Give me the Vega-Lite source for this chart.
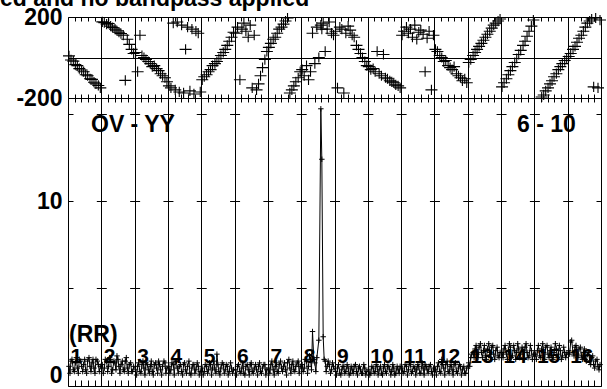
{
"$schema": "https://vega.github.io/schema/vega-lite/v6.json",
"autosize": {"type": "pad"},
"padding": {"left": 0, "top": -12, "right": 0, "bottom": 0},
"background": "white",
"title": {"text": "ed and no bandpass applied", "anchor": "start", "frame": "group", "dx": -68, "dy": 34, "offset": 10.5, "baseline": "alphabetic", "font": "Liberation Sans", "fontSize": 23, "fontWeight": "bold", "color": "black"},
"datasets": {
"ifs": [{"b":0,"t":"1"},{"b":1,"t":"2"},{"b":2,"t":"3"},{"b":3,"t":"4"},{"b":4,"t":"5"},{"b":5,"t":"6"},{"b":6,"t":"7"},{"b":7,"t":"8"},{"b":8,"t":"9"},{"b":9,"t":"10"},{"b":10,"t":"11"},{"b":11,"t":"12"},{"b":12,"t":"13"},{"b":13,"t":"14"},{"b":14,"t":"15"},{"b":15,"t":"16"}],
"d": [
{"x":0.03,"a":0.5,"p":8},{"x":0.09,"a":0.8,"p":-12},{"x":0.16,"a":0.3,"p":-18},{"x":0.22,"a":0.7,"p":-35},{"x":0.28,"a":0.4,"p":-40},{"x":0.34,"a":0.9,"p":-55},{"x":0.41,"a":0.5,"p":-62},{"x":0.47,"a":0.6,"p":-70},{"x":0.53,"a":0.3,"p":-85},{"x":0.59,"a":0.8,"p":-90},{"x":0.66,"a":0.5,"p":-105},{"x":0.72,"a":0.7,"p":-108},{"x":0.78,"a":0.4,"p":-122},{"x":0.84,"a":0.9,"p":-130},{"x":0.91,"a":0.6,"p":-138},{"x":0.97,"a":0.5,"p":-150},
{"x":1.03,"a":0.6,"p":176},{"x":1.09,"a":0.4,"p":172},{"x":1.16,"a":0.8,"p":165},{"x":1.22,"a":0.5,"p":168},{"x":1.28,"a":0.9,"p":155},{"x":1.34,"a":0.3,"p":148},{"x":1.41,"a":0.7,"p":140},{"x":1.47,"a":1.1,"p":132},{"x":1.53,"a":0.5,"p":125},{"x":1.59,"a":0.6,"p":118},{"x":1.66,"a":0.3,"p":110},{"x":1.72,"a":0.8,"p":-113},{"x":1.78,"a":0.4,"p":90},{"x":1.84,"a":0.6,"p":65},{"x":1.91,"a":0.2,"p":40},{"x":1.97,"a":0.5,"p":20},
{"x":2.03,"a":0.3,"p":25},{"x":2.09,"a":0.5,"p":-70},{"x":2.16,"a":0.2,"p":110},{"x":2.22,"a":0.6,"p":10},{"x":2.28,"a":0.4,"p":0},{"x":2.34,"a":0.7,"p":-10},{"x":2.41,"a":0.3,"p":-20},{"x":2.47,"a":0.5,"p":-30},{"x":2.53,"a":0.2,"p":-45},{"x":2.59,"a":0.6,"p":-40},{"x":2.66,"a":0.4,"p":-55},{"x":2.72,"a":0.8,"p":-65},{"x":2.78,"a":0.3,"p":-80},{"x":2.84,"a":0.5,"p":-90},{"x":2.91,"a":0.7,"p":-100},{"x":2.97,"a":0.4,"p":-120},
{"x":3.03,"a":0.5,"p":-140},{"x":3.09,"a":0.3,"p":-150},{"x":3.16,"a":0.6,"p":170},{"x":3.22,"a":0.8,"p":-160},{"x":3.28,"a":0.4,"p":175},{"x":3.34,"a":0.5,"p":-170},{"x":3.41,"a":0.2,"p":160},{"x":3.47,"a":0.6,"p":-175},{"x":3.53,"a":0.3,"p":40},{"x":3.59,"a":0.5,"p":150},{"x":3.66,"a":0.1,"p":-165},{"x":3.72,"a":0.4,"p":140},{"x":3.78,"a":0.6,"p":-180},{"x":3.84,"a":0.3,"p":130},{"x":3.91,"a":0.5,"p":120},{"x":3.97,"a":0.2,"p":-170},
{"x":4.03,"a":0.4,"p":-110},{"x":4.09,"a":0.2,"p":-95},{"x":4.16,"a":0.5,"p":-85},{"x":4.22,"a":0.3,"p":-70},{"x":4.28,"a":0.6,"p":-60},{"x":4.34,"a":0.4,"p":-40},{"x":4.41,"a":0.3,"p":-30},{"x":4.47,"a":1.2,"p":-20},{"x":4.53,"a":0.2,"p":-5},{"x":4.59,"a":0.4,"p":10},{"x":4.66,"a":0.6,"p":25},{"x":4.72,"a":0.3,"p":40},{"x":4.78,"a":0.5,"p":60},{"x":4.84,"a":0.2,"p":80},{"x":4.91,"a":0.4,"p":100},{"x":4.97,"a":0.3,"p":125},
{"x":5.03,"a":0.3,"p":120},{"x":5.09,"a":0.5,"p":150},{"x":5.16,"a":0.2,"p":-110},{"x":5.22,"a":0.4,"p":140},{"x":5.28,"a":0.1,"p":170},{"x":5.34,"a":0.5,"p":130},{"x":5.41,"a":0.3,"p":100},{"x":5.47,"a":0.6,"p":160},{"x":5.53,"a":0.2,"p":-150},{"x":5.59,"a":0.4,"p":110},{"x":5.66,"a":0.3,"p":-160},{"x":5.72,"a":0.5,"p":-130},{"x":5.78,"a":0.2,"p":-90},{"x":5.84,"a":0.4,"p":-50},{"x":5.91,"a":0.6,"p":-10},{"x":5.97,"a":0.3,"p":30},
{"x":6.03,"a":0.4,"p":50},{"x":6.09,"a":0.6,"p":70},{"x":6.16,"a":0.3,"p":90},{"x":6.22,"a":0.5,"p":100},{"x":6.28,"a":0.2,"p":120},{"x":6.34,"a":0.6,"p":140},{"x":6.41,"a":0.4,"p":150},{"x":6.47,"a":0.5,"p":165},{"x":6.53,"a":0.3,"p":180},{"x":6.59,"a":0.7,"p":195},{"x":6.66,"a":0.4,"p":-175},{"x":6.72,"a":0.6,"p":-160},{"x":6.78,"a":0.3,"p":-140},{"x":6.84,"a":0.5,"p":-120},{"x":6.91,"a":0.8,"p":-100},{"x":6.97,"a":0.5,"p":-70},
{"x":7.03,"a":0.6,"p":-60},{"x":7.09,"a":0.4,"p":-90},{"x":7.16,"a":0.8,"p":-40},{"x":7.22,"a":0.5,"p":-110},{"x":7.28,"a":0.9,"p":-70},{"x":7.34,"a":2.5,"p":120},{"x":7.41,"a":0.7,"p":-30},{"x":7.47,"a":1.0,"p":150},{"x":7.53,"a":2.0,"p":0},{"x":7.59,"a":15.3,"p":160},{"x":7.62,"a":12.4,"p":140},{"x":7.66,"a":2.2,"p":170},{"x":7.72,"a":0.8,"p":30},{"x":7.78,"a":0.5,"p":140},{"x":7.84,"a":0.6,"p":175},{"x":7.91,"a":0.3,"p":120},{"x":7.97,"a":0.5,"p":110},
{"x":8.03,"a":0.2,"p":130},{"x":8.09,"a":0.4,"p":-150},{"x":8.16,"a":0.1,"p":150},{"x":8.22,"a":0.3,"p":140},{"x":8.28,"a":0.5,"p":-175},{"x":8.34,"a":0.2,"p":120},{"x":8.41,"a":0.4,"p":155},{"x":8.47,"a":0.1,"p":135},{"x":8.53,"a":0.3,"p":110},{"x":8.59,"a":0.5,"p":100},{"x":8.66,"a":0.2,"p":60},{"x":8.72,"a":0.4,"p":40},{"x":8.78,"a":0.3,"p":20},{"x":8.84,"a":0.1,"p":0},{"x":8.91,"a":0.4,"p":-20},{"x":8.97,"a":0.2,"p":-40},
{"x":9.03,"a":0.3,"p":-45},{"x":9.09,"a":0.1,"p":-60},{"x":9.16,"a":0.4,"p":-55},{"x":9.22,"a":0.2,"p":-70},{"x":9.28,"a":0.5,"p":30},{"x":9.34,"a":0.3,"p":-80},{"x":9.41,"a":0.1,"p":-90},{"x":9.47,"a":0.4,"p":15},{"x":9.53,"a":0.2,"p":-100},{"x":9.59,"a":0.5,"p":-105},{"x":9.66,"a":0.3,"p":-115},{"x":9.72,"a":0.2,"p":-120},{"x":9.78,"a":0.4,"p":-125},{"x":9.84,"a":0.1,"p":-135},{"x":9.91,"a":0.3,"p":-140},{"x":9.97,"a":0.5,"p":-150},
{"x":10.03,"a":0.4,"p":110},{"x":10.09,"a":0.2,"p":130},{"x":10.16,"a":0.5,"p":150},{"x":10.22,"a":0.3,"p":120},{"x":10.28,"a":0.6,"p":140},{"x":10.34,"a":0.2,"p":100},{"x":10.41,"a":0.4,"p":160},{"x":10.47,"a":0.3,"p":90},{"x":10.53,"a":0.5,"p":125},{"x":10.59,"a":0.1,"p":135},{"x":10.66,"a":0.4,"p":115},{"x":10.72,"a":0.6,"p":-70},{"x":10.78,"a":0.3,"p":95},{"x":10.84,"a":0.5,"p":130},{"x":10.91,"a":0.2,"p":-160},{"x":10.97,"a":0.4,"p":110},
{"x":11.03,"a":0.3,"p":40},{"x":11.09,"a":0.5,"p":30},{"x":11.16,"a":0.2,"p":10},{"x":11.22,"a":0.9,"p":0},{"x":11.28,"a":0.4,"p":-20},{"x":11.34,"a":0.6,"p":-15},{"x":11.41,"a":0.2,"p":-40},{"x":11.47,"a":0.5,"p":-50},{"x":11.53,"a":0.3,"p":-60},{"x":11.59,"a":0.6,"p":-45},{"x":11.66,"a":0.2,"p":-80},{"x":11.72,"a":0.4,"p":-90},{"x":11.78,"a":0.5,"p":-100},{"x":11.84,"a":0.3,"p":-115},{"x":11.91,"a":0.1,"p":-105},{"x":11.97,"a":0.4,"p":-125},
{"x":12.03,"a":0.7,"p":-25},{"x":12.09,"a":1.0,"p":-10},{"x":12.16,"a":1.3,"p":10},{"x":12.22,"a":1.5,"p":25},{"x":12.28,"a":1.2,"p":40},{"x":12.34,"a":1.6,"p":55},{"x":12.41,"a":1.3,"p":70},{"x":12.47,"a":1.4,"p":85},{"x":12.53,"a":1.1,"p":100},{"x":12.59,"a":1.5,"p":115},{"x":12.66,"a":1.3,"p":130},{"x":12.72,"a":1.6,"p":145},{"x":12.78,"a":1.2,"p":160},{"x":12.84,"a":1.4,"p":170},{"x":12.91,"a":1.1,"p":180},{"x":12.97,"a":1.3,"p":190},
{"x":13.03,"a":1.3,"p":-145},{"x":13.09,"a":1.5,"p":-125},{"x":13.16,"a":1.2,"p":-105},{"x":13.22,"a":1.4,"p":-85},{"x":13.28,"a":1.6,"p":-65},{"x":13.34,"a":1.1,"p":-45},{"x":13.41,"a":1.4,"p":-25},{"x":13.47,"a":1.3,"p":-5},{"x":13.53,"a":1.5,"p":15},{"x":13.59,"a":1.2,"p":35},{"x":13.66,"a":1.4,"p":60},{"x":13.72,"a":1.6,"p":80},{"x":13.78,"a":1.3,"p":105},{"x":13.84,"a":1.1,"p":130},{"x":13.91,"a":1.4,"p":155},{"x":13.97,"a":1.2,"p":185},
{"x":14.03,"a":1.2},{"x":14.09,"a":1.4},{"x":14.16,"a":1.1},{"x":14.22,"a":1.5,"p":-195},{"x":14.28,"a":1.3,"p":-185},{"x":14.34,"a":1.6,"p":-165},{"x":14.41,"a":1.2,"p":-150},{"x":14.47,"a":1.4,"p":-130},{"x":14.53,"a":1.0,"p":-115},{"x":14.59,"a":1.3,"p":-95},{"x":14.66,"a":1.5,"p":-80},{"x":14.72,"a":1.2,"p":-60},{"x":14.78,"a":1.4,"p":-45},{"x":14.84,"a":1.1,"p":-30},{"x":14.91,"a":1.3,"p":-15},{"x":14.97,"a":1.2,"p":-5},
{"x":15.03,"a":1.4,"p":5},{"x":15.09,"a":1.9,"p":20},{"x":15.16,"a":1.3,"p":40},{"x":15.22,"a":1.6,"p":55},{"x":15.28,"a":1.2,"p":75},{"x":15.34,"a":1.5,"p":95},{"x":15.41,"a":1.1,"p":110},{"x":15.47,"a":1.3,"p":130},{"x":15.53,"a":0.9,"p":150},{"x":15.59,"a":1.2,"p":170},{"x":15.66,"a":0.8,"p":180},{"x":15.72,"a":1.0,"p":190},{"x":15.78,"a":0.6,"p":-145},{"x":15.84,"a":0.8,"p":195},{"x":15.91,"a":0.5,"p":-150},{"x":15.97,"a":0.6,"p":185},
{"x":0.06,"a":0.1},{"x":0.12,"a":0.9},{"x":0.19,"a":0.2},{"x":0.25,"a":1.0},{"x":0.31,"a":0.1},{"x":0.38,"a":0.8},{"x":0.44,"a":0.2},{"x":0.5,"a":0.9},{"x":0.56,"a":0.1},{"x":0.63,"a":1.0},{"x":0.69,"a":0.2},{"x":0.75,"a":0.9},{"x":0.81,"a":0.1},{"x":0.88,"a":0.8},{"x":0.94,"a":0.2},
{"x":1.06,"a":0.1},{"x":1.12,"a":0.9},{"x":1.19,"a":0.2},{"x":1.25,"a":1.0},{"x":1.31,"a":0.1},{"x":1.38,"a":0.8},{"x":1.44,"a":0.3},{"x":1.5,"a":0.9},{"x":1.56,"a":0.1},{"x":1.63,"a":0.8},{"x":1.69,"a":0.2},{"x":1.75,"a":1.0},{"x":1.81,"a":0.1},{"x":1.88,"a":0.7},{"x":1.94,"a":0.2},
{"x":2.06,"a":0.0},{"x":2.12,"a":0.7},{"x":2.19,"a":0.1},{"x":2.25,"a":0.8},{"x":2.31,"a":0.0},{"x":2.38,"a":0.6},{"x":2.44,"a":0.1},{"x":2.5,"a":0.8},{"x":2.56,"a":0.0},{"x":2.63,"a":0.7},{"x":2.69,"a":0.1},{"x":2.75,"a":0.6},{"x":2.81,"a":0.0},{"x":2.88,"a":0.8},{"x":2.94,"a":0.1},
{"x":3.06,"a":0.1},{"x":3.12,"a":0.7},{"x":3.19,"a":0.0},{"x":3.25,"a":0.8},{"x":3.31,"a":0.1},{"x":3.38,"a":0.6},{"x":3.44,"a":0.0},{"x":3.5,"a":0.7},{"x":3.56,"a":0.1},{"x":3.63,"a":0.8},{"x":3.69,"a":0.0},{"x":3.75,"a":0.6},{"x":3.81,"a":0.1},{"x":3.88,"a":0.7},{"x":3.94,"a":0.0},
{"x":4.06,"a":0.0},{"x":4.12,"a":0.6},{"x":4.19,"a":0.1},{"x":4.25,"a":0.7},{"x":4.31,"a":0.0},{"x":4.38,"a":0.8},{"x":4.44,"a":0.1},{"x":4.5,"a":0.6},{"x":4.56,"a":0.0},{"x":4.63,"a":0.7},{"x":4.69,"a":0.1},{"x":4.75,"a":0.6},{"x":4.81,"a":0.0},{"x":4.88,"a":0.7},{"x":4.94,"a":0.1},
{"x":5.06,"a":0.0},{"x":5.12,"a":0.6},{"x":5.19,"a":0.1},{"x":5.25,"a":0.7},{"x":5.31,"a":0.0},{"x":5.38,"a":0.6},{"x":5.44,"a":0.0},{"x":5.5,"a":0.7},{"x":5.56,"a":0.1},{"x":5.63,"a":0.6},{"x":5.69,"a":0.0},{"x":5.75,"a":0.7},{"x":5.81,"a":0.1},{"x":5.88,"a":0.6},{"x":5.94,"a":0.0},
{"x":6.06,"a":0.1},{"x":6.12,"a":0.8},{"x":6.19,"a":0.0},{"x":6.25,"a":0.7},{"x":6.31,"a":0.1},{"x":6.38,"a":0.8},{"x":6.44,"a":0.2},{"x":6.5,"a":0.7},{"x":6.56,"a":0.0},{"x":6.63,"a":0.9},{"x":6.69,"a":0.1},{"x":6.75,"a":0.8},{"x":6.81,"a":0.2},{"x":6.88,"a":0.7},{"x":6.94,"a":0.1},
{"x":7.06,"a":0.2},{"x":7.12,"a":0.9},{"x":7.19,"a":0.1},{"x":7.25,"a":1.1},{"x":7.31,"a":0.3},{"x":7.38,"a":0.9},{"x":7.44,"a":0.2},{"x":7.69,"a":0.9},{"x":7.75,"a":0.2},{"x":7.81,"a":0.8},{"x":7.88,"a":0.1},{"x":7.94,"a":0.7},
{"x":8.06,"a":0.0},{"x":8.12,"a":0.6},{"x":8.19,"a":0.0},{"x":8.25,"a":0.5},{"x":8.31,"a":0.1},{"x":8.38,"a":0.6},{"x":8.44,"a":0.0},{"x":8.5,"a":0.5},{"x":8.56,"a":0.1},{"x":8.63,"a":0.6},{"x":8.69,"a":0.0},{"x":8.75,"a":0.5},{"x":8.81,"a":0.1},{"x":8.88,"a":0.6},{"x":8.94,"a":0.0},
{"x":9.06,"a":0.0},{"x":9.12,"a":0.5},{"x":9.19,"a":0.1},{"x":9.25,"a":0.6},{"x":9.31,"a":0.0},{"x":9.38,"a":0.5},{"x":9.44,"a":0.0},{"x":9.5,"a":0.6},{"x":9.56,"a":0.1},{"x":9.63,"a":0.5},{"x":9.69,"a":0.0},{"x":9.75,"a":0.6},{"x":9.81,"a":0.0},{"x":9.88,"a":0.5},{"x":9.94,"a":0.1},
{"x":10.06,"a":0.1},{"x":10.12,"a":0.6},{"x":10.19,"a":0.0},{"x":10.25,"a":0.7},{"x":10.31,"a":0.1},{"x":10.38,"a":0.5},{"x":10.44,"a":0.0},{"x":10.5,"a":0.6},{"x":10.56,"a":0.1},{"x":10.63,"a":0.7},{"x":10.69,"a":0.0},{"x":10.75,"a":0.5},{"x":10.81,"a":0.1},{"x":10.88,"a":0.6},{"x":10.94,"a":0.0},
{"x":11.06,"a":0.0},{"x":11.12,"a":0.7},{"x":11.19,"a":0.1},{"x":11.25,"a":0.6},{"x":11.31,"a":0.0},{"x":11.38,"a":0.8},{"x":11.44,"a":0.1},{"x":11.5,"a":0.6},{"x":11.56,"a":0.0},{"x":11.63,"a":0.7},{"x":11.69,"a":0.1},{"x":11.75,"a":0.6},{"x":11.81,"a":0.0},{"x":11.88,"a":0.5},{"x":11.94,"a":0.1},
{"x":12.06,"a":0.5},{"x":12.12,"a":1.2},{"x":12.19,"a":1.0},{"x":12.25,"a":1.7},{"x":12.31,"a":1.0},{"x":12.38,"a":1.8},{"x":12.44,"a":1.0},{"x":12.5,"a":1.7},{"x":12.56,"a":0.9},{"x":12.63,"a":1.8},{"x":12.69,"a":1.0},{"x":12.75,"a":1.7},{"x":12.81,"a":0.9},{"x":12.88,"a":1.6},{"x":12.94,"a":1.0},
{"x":13.06,"a":1.0},{"x":13.12,"a":1.7},{"x":13.19,"a":0.9},{"x":13.25,"a":1.8},{"x":13.31,"a":1.0},{"x":13.38,"a":1.7},{"x":13.44,"a":0.9},{"x":13.5,"a":1.8},{"x":13.56,"a":1.0},{"x":13.63,"a":1.6},{"x":13.69,"a":0.9},{"x":13.75,"a":1.8},{"x":13.81,"a":1.0},{"x":13.88,"a":1.7},{"x":13.94,"a":0.9},
{"x":14.06,"a":0.9},{"x":14.12,"a":1.7},{"x":14.19,"a":1.0},{"x":14.25,"a":1.8},{"x":14.31,"a":0.9},{"x":14.38,"a":1.7},{"x":14.44,"a":1.0},{"x":14.5,"a":1.6},{"x":14.56,"a":0.9},{"x":14.63,"a":1.8},{"x":14.69,"a":1.0},{"x":14.75,"a":1.7},{"x":14.81,"a":0.9},{"x":14.88,"a":1.6},{"x":14.94,"a":1.0},
{"x":15.06,"a":1.2},{"x":15.12,"a":2.0},{"x":15.19,"a":1.1},{"x":15.25,"a":1.7},{"x":15.31,"a":1.0},{"x":15.38,"a":1.6},{"x":15.44,"a":0.9},{"x":15.5,"a":1.5},{"x":15.56,"a":0.8},{"x":15.63,"a":1.3},{"x":15.69,"a":0.6},{"x":15.75,"a":1.1},{"x":15.81,"a":0.4},{"x":15.88,"a":0.9},{"x":15.94,"a":0.3}
]
},
"spacing": 0,
"bounds": "flush",
"vconcat": [
{
 "width": 533, "height": 81,
 "data": {"name": "d"},
 "resolve": {"axis": {"x": "independent"}},
 "layer": [
  {
   "mark": {"type": "point", "shape": "M-1,0H1M0,-0.85V0.85", "size": 144, "filled": false, "stroke": "black", "strokeWidth": 1.1, "opacity": 1},
   "encoding": {
    "x": {"field": "x", "type": "quantitative", "scale": {"domain": [0, 16], "nice": false, "zero": false},
      "axis": {"orient": "bottom", "tickCount": 80, "ticks": true, "tickSize": -4, "tickColor": "black", "labels": false, "title": null, "grid": true, "gridColor": "black", "gridOpacity": {"condition": {"test": "abs(datum.value - round(datum.value)) < 0.01 && datum.value > 0.5 && datum.value < 15.5", "value": 1}, "value": 0}}},
    "y": {"field": "p", "type": "quantitative", "scale": {"domain": [-200, 200], "nice": false, "zero": false},
      "axis": {"values": [-200, 0, 200], "labelExpr": "datum.value == 0 ? '' : (datum.value < 0 ? '-200' : '200')", "grid": true, "gridColor": "black", "gridOpacity": {"condition": {"test": "datum.value == 0", "value": 1}, "value": 0}, "title": null, "labelPadding": 6}}
   }
  },
  {
   "mark": {"type": "point", "opacity": 0},
   "encoding": {
    "x": {"field": "x", "type": "quantitative", "axis": {"orient": "top", "tickCount": 80, "ticks": true, "tickSize": -4, "tickColor": "black", "labels": false, "title": null, "grid": false}},
    "y": {"field": "p", "type": "quantitative"}
   }
  }
 ]
},
{
 "width": 533, "height": 288,
 "resolve": {"axis": {"x": "independent"}},
 "layer": [
  {
   "data": {"name": "ifs"},
   "mark": {"type": "text", "align": "left", "baseline": "alphabetic", "dx": 2.5, "fontSize": 21},
   "encoding": {
    "x": {"field": "b", "type": "quantitative", "scale": {"domain": [0, 16], "nice": false, "zero": false},
      "axis": {"orient": "bottom", "tickCount": 80, "ticks": true, "tickSize": -6, "tickColor": "black", "labels": false, "title": null, "grid": false}},
    "y": {"datum": 0.69, "type": "quantitative", "scale": {"domain": [-0.63, 15.92], "nice": false, "zero": false},
      "axis": {"values": [0, 5, 10, 15], "labelExpr": "datum.value == 0 || datum.value == 10 ? datum.label : ''", "grid": true, "gridColor": "black", "gridDash": [10, 23.3125], "gridDashOffset": 5, "gridOpacity": {"condition": {"test": "datum.value > 0", "value": 1}, "value": 0}, "title": null, "labelPadding": 6}},
    "text": {"field": "t"}
   }
  },
  {
   "data": {"name": "d"},
   "mark": {"type": "line", "color": "black", "strokeWidth": 1},
   "encoding": {
    "x": {"field": "x", "type": "quantitative", "axis": {"orient": "top", "tickCount": 80, "ticks": true, "tickSize": -4, "tickColor": "black", "labels": false, "title": null, "grid": true, "gridColor": "black", "gridOpacity": {"condition": {"test": "abs(datum.value - round(datum.value)) < 0.01 && datum.value > 0.5 && datum.value < 15.5", "value": 1}, "value": 0}}},
    "y": {"field": "a", "type": "quantitative"}
   }
  },
  {
   "data": {"name": "d"},
   "mark": {"type": "point", "shape": "M-1,0H1M0,-1V1", "size": 30, "filled": false, "stroke": "black", "strokeWidth": 1, "opacity": 1},
   "encoding": {
    "x": {"field": "x", "type": "quantitative", "axis": null},
    "y": {"field": "a", "type": "quantitative"}
   }
  },
  {
   "data": {"values": [{}]},
   "mark": {"type": "text", "align": "left", "baseline": "alphabetic"},
   "encoding": {"x": {"datum": 0.69, "type": "quantitative", "axis": null}, "y": {"datum": 13.98, "type": "quantitative"}, "text": {"value": "OV - YY"}}
  },
  {
   "data": {"values": [{}]},
   "mark": {"type": "text", "align": "left", "baseline": "alphabetic"},
   "encoding": {"x": {"datum": 13.48, "type": "quantitative", "axis": null}, "y": {"datum": 13.98, "type": "quantitative"}, "text": {"value": "6 - 10"}}
  },
  {
   "data": {"values": [{}]},
   "mark": {"type": "text", "align": "left", "baseline": "alphabetic"},
   "encoding": {"x": {"datum": 0.03, "type": "quantitative", "axis": null}, "y": {"datum": 1.92, "type": "quantitative"}, "text": {"value": "(RR)"}}
  }
 ]
}
],
"config": {
 "view": {"stroke": "black", "strokeWidth": 1},
 "axis": {"domain": false, "ticks": false, "labelFont": "Liberation Sans", "labelFontWeight": "bold", "labelFontSize": 23, "labelColor": "black"},
 "text": {"font": "Liberation Sans", "fontWeight": "bold", "fontSize": 23, "color": "black"}
}
}
